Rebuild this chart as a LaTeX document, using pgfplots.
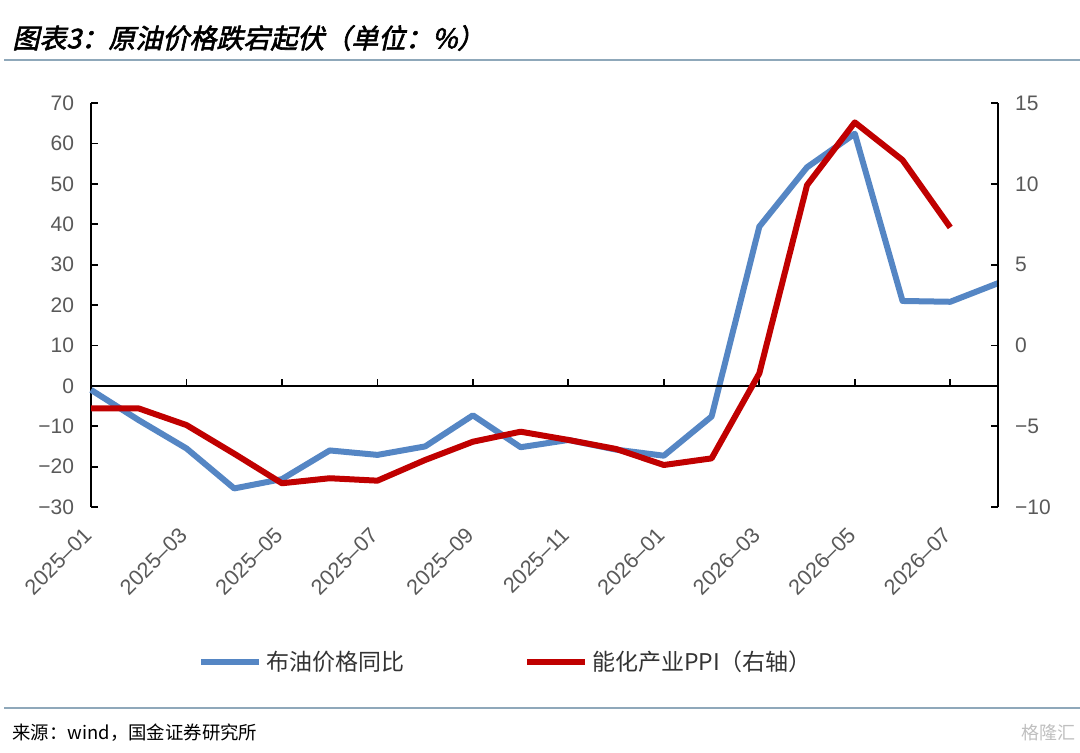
\documentclass[border=0pt]{standalone}
\usepackage{pgfplots}
\pgfplotsset{compat=1.18}
\usepackage{fontspec}
\setmainfont{Liberation Sans}
\newfontfamily\cjk{Noto Sans CJK SC}
\newfontfamily\cjktitle[FakeSlant=0.22,FakeBold=2.2]{Noto Sans CJK SC}
\definecolor{bl}{HTML}{5586C4}
\definecolor{rd}{HTML}{C00000}
\definecolor{tg}{HTML}{595959}
\definecolor{rule}{HTML}{8FA8BA}
\pgfplotstableread{
x y
0 -1
1 -8.5
2 -15.5
3 -25.4
4 -23.1
5 -16.0
6 -17.1
7 -15.0
8 -7.3
9 -15.2
10 -13.4
11 -15.8
12 -17.3
13 -7.6
14 39.4
15 54.1
16 62.4
17 21.0
18 20.8
19 25.4
}\brent
\pgfplotstableread{
x y
0 -3.9
1 -3.9
2 -4.93
3 -6.7
4 -8.53
5 -8.22
6 -8.37
7 -7.09
8 -5.96
9 -5.34
10 -5.85
11 -6.41
12 -7.40
13 -6.99
14 -1.73
15 9.92
16 13.8
17 11.47
18 7.3
}\ppi
\begin{document}
\begin{tikzpicture}
\path[use as bounding box] (0,0) rectangle (540pt,376pt);
\node[anchor=west,inner sep=0pt] at (6pt,357pt) {\fontsize{13.5pt}{16pt}\cjktitle 图表3：原油价格跌宕起伏（单位：\%）};
\draw[rule,line width=1.1pt] (2pt,346pt) -- (540pt,346pt);
\draw[rule,line width=1.1pt] (2pt,22pt) -- (540pt,22pt);
\node[anchor=west,inner sep=0pt] at (6pt,9.5pt) {\fontsize{9.2pt}{11pt}\cjk 来源：wind，国金证券研究所};
\node[anchor=east,inner sep=0pt,text=black!25] at (538pt,9.5pt) {\fontsize{9pt}{11pt}\cjk 格隆汇};
\begin{axis}[
  at={(45.5pt,122.5pt)}, anchor=south west,
  scale only axis, width=453.5pt, height=202pt,
  xmin=0, xmax=19, ymin=-30, ymax=70,
  axis y line*=left, axis x line*=bottom,
  x axis line style={draw=none},
  y axis line style={black, line width=0.9pt},
  xtick={0,2,...,18},
  xticklabels={2025–01,2025–03,2025–05,2025–07,2025–09,2025–11,2026–01,2026–03,2026–05,2026–07},
  xtick style={draw=none},
  xticklabel style={yshift=-12pt, xshift=-1.5pt, rotate=45, anchor=east, inner sep=0pt, font=\fontsize{10.8pt}{12pt}\selectfont, text=tg},
  ytick={-30,-20,...,70},
  yticklabels={−30,−20,−10,0,10,20,30,40,50,60,70},
  yticklabel style={font=\fontsize{10.5pt}{12pt}\selectfont, text=tg},
  yticklabel shift=5pt,
  ytick style={black, line width=0.9pt},
  tick align=inside, major tick length=3.5pt,
  clip=false,
  legend style={at={(0.4587,-0.3837)}, anchor=center, draw=none, fill=none,
    legend columns=2, font=\fontsize{11.5pt}{13pt}\cjk\selectfont, text=black!80,
    /tikz/every even column/.append style={column sep=58pt},
    inner sep=0pt},
  legend image code/.code={\draw[#1] (0pt,0pt) -- (29pt,0pt);},
]
\addplot[bl, line width=3pt, line join=round] table[x=x,y=y] {\brent};
\addlegendentry{布油价格同比}
\addlegendimage{rd, line width=3pt}
\addlegendentry{能化产业PPI（右轴）}
\draw[black, line width=0.9pt] (axis cs:0,0) -- (axis cs:19,0);
\pgfplotsinvokeforeach{2,4,...,18}{\draw[black, line width=0.9pt] (axis cs:#1,0) -- ([yshift=3.5pt]axis cs:#1,0);}
\end{axis}
\begin{axis}[
  at={(45.5pt,122.5pt)}, anchor=south west,
  scale only axis, width=453.5pt, height=202pt,
  xmin=0, xmax=19, ymin=-10, ymax=15,
  axis y line*=right, axis x line=none,
  y axis line style={black, line width=0.9pt},
  ytick={-10,-5,...,15},
  yticklabels={−10,−5,0,5,10,15},
  yticklabel style={font=\fontsize{10.5pt}{12pt}\selectfont, text=tg},
  yticklabel shift=5pt,
  ytick style={black, line width=0.9pt},
  tick align=inside, major tick length=3.5pt,
  clip=false,
]
\addplot[rd, line width=3pt, line join=round] table[x=x,y=y] {\ppi};
\end{axis}
\end{tikzpicture}
\end{document}
